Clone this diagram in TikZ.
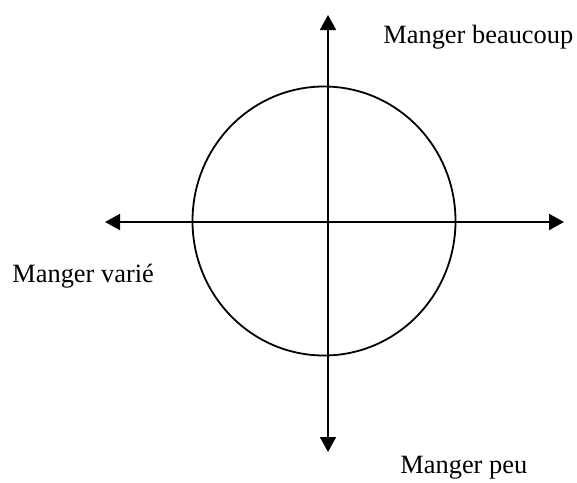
\documentclass[tikz,border=0pt]{standalone}
\usepackage{fontspec}
\setmainfont{Liberation Serif}
\usetikzlibrary{arrows.meta}
\begin{document}
\begin{tikzpicture}[x=0.5pt,y=-0.5pt,
  axisline/.style={line width=1pt,{Triangle[length=7.5pt,width=8pt]}-{Triangle[length=7.5pt,width=8pt]}},
  ring/.style={line width=0.9pt},
  lbl/.style={inner sep=0pt,anchor=base west,font=\fontsize{13.2pt}{16pt}\selectfont}]
\useasboundingbox (0,0) rectangle (577,482);
\coordinate (top) at (328,15);
\coordinate (bottom) at (328,452);
\coordinate (left) at (105,222);
\coordinate (right) at (564,222);
\coordinate (c) at (324,221);
\draw[ring] (c) ellipse [x radius=131.5, y radius=134.5];
\draw[axisline] (top) -- (bottom);
\draw[axisline] (left) -- (right);
\node[lbl] (nb) at (383,43) {Manger beaucoup};
\node[lbl] (nv) at (12,282) {Manger varié};
\node[lbl] (np) at (400,473) {Manger peu};
\end{tikzpicture}
\end{document}
